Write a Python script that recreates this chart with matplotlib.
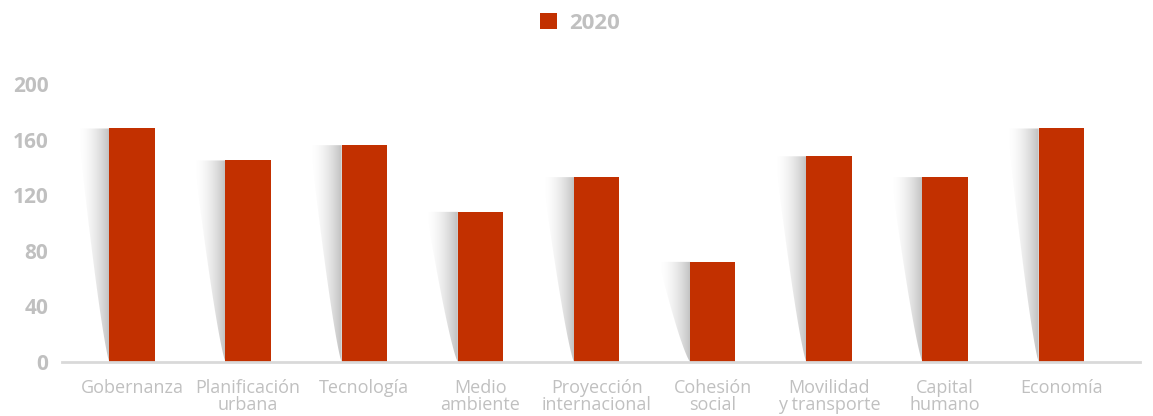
import numpy as np
import matplotlib.pyplot as plt
from matplotlib.patches import Polygon

plt.rcParams['font.family'] = ['Open Sans', 'DejaVu Sans']

# Datos
categorias = ["Gobernanza", "Planificación\nurbana", "Tecnología", "Medio\nambiente",
              "Proyección\ninternacional", "Cohesión\nsocial", "Movilidad\ny transporte",
              "Capital\nhumano", "Economía"]
valores_2020 = [168, 145, 156, 108, 133, 72, 148, 133, 168]
ticks_y = [0, 40, 80, 120, 160, 200]

rojo = '#C23000'
gris = '#C0C0C0'

fig = plt.figure(figsize=(11.53, 4.16), dpi=100)
ax = fig.add_axes([0.054, 0.13, 0.935, 0.668])

x = np.arange(len(categorias))
ancho = 0.39
ax.bar(x, valores_2020, width=ancho, color=rojo, zorder=3, label='2020')

# Sombra degradada a la izquierda de cada barra
ws = 0.27
grad = np.linspace(0, 1, 200)[None, :]
img = np.zeros((1, 200, 4))
img[..., :3] = 0.5
img[..., 3] = 0.5 * grad ** 1.8
for xi, v in zip(x, valores_2020):
    xl = xi - ancho / 2
    t = np.linspace(0, 1, 50)
    borde_x = xl - ws * (1 - t) ** 0.8
    borde_y = v * (1 - t)
    pts = [(xl, v)] + list(zip(borde_x, borde_y)) + [(xl, 0)]
    poly = Polygon(pts, closed=True, facecolor='none', edgecolor='none')
    ax.add_patch(poly)
    im = ax.imshow(img, extent=[xl - ws, xl, 0, v], aspect='auto', zorder=2,
                   interpolation='bilinear')
    im.set_clip_path(poly)

ax.set_xlim(-0.6, len(categorias) - 1 + 0.68)
ax.set_ylim(0, 200)
ax.set_yticks(ticks_y)
ax.set_yticklabels([str(t) for t in ticks_y], fontsize=15, fontweight='bold', color=gris)
ax.set_xticks(x)
ax.set_xticklabels(categorias, fontsize=13, color=gris, linespacing=0.98)
ax.tick_params(axis='both', length=0)
ax.tick_params(axis='x', pad=12)
ax.tick_params(axis='y', pad=10)

for s in ['top', 'right', 'left']:
    ax.spines[s].set_visible(False)
ax.spines['bottom'].set_color('#D9D9D9')
ax.spines['bottom'].set_linewidth(2)
ax.spines['bottom'].set_zorder(4)

leg = fig.legend(loc='upper center', bbox_to_anchor=(0.503, 1.018), frameon=False,
                 handlelength=0.75, handleheight=0.75, handletextpad=0.55,
                 prop={'size': 16, 'weight': 'bold'})
for t in leg.get_texts():
    t.set_color(gris)

fig.savefig('out.png', dpi=100)
